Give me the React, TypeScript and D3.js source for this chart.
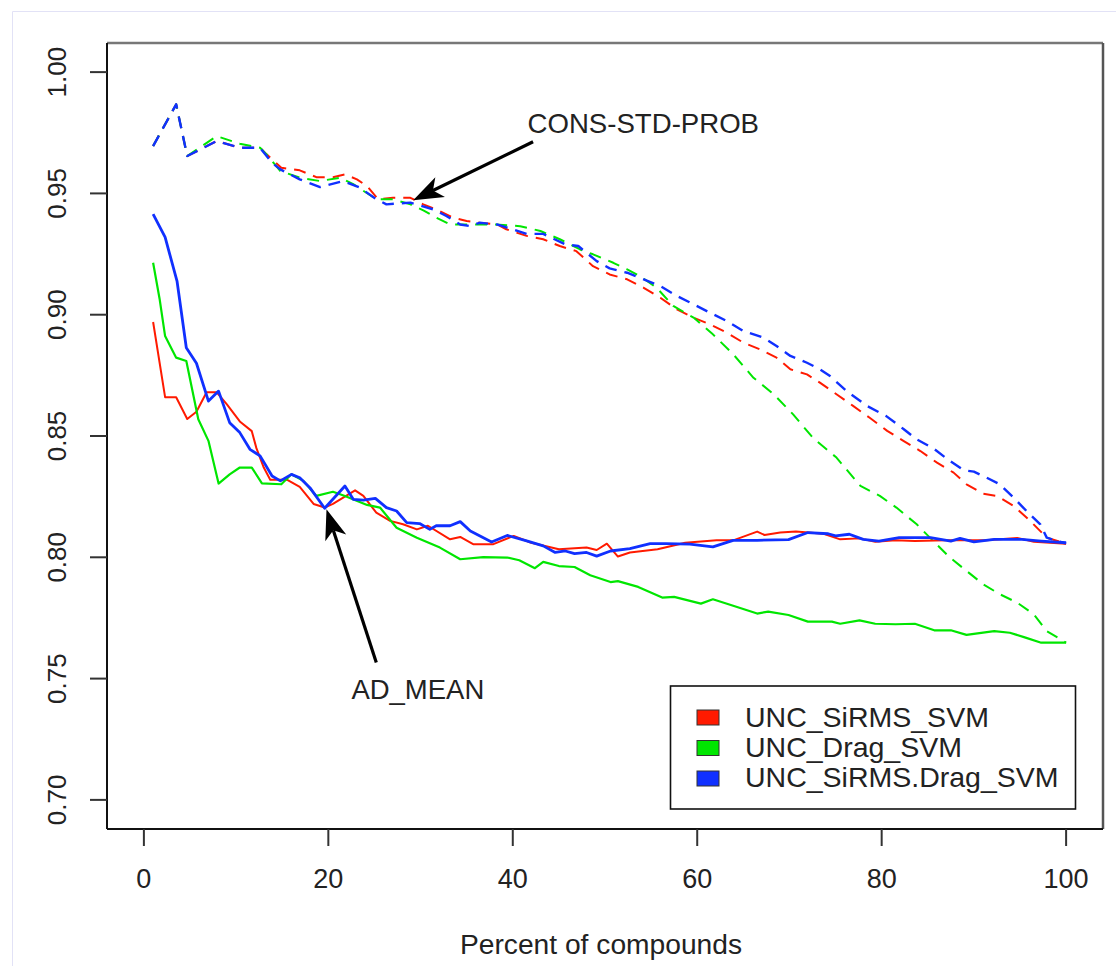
import React from "react";
import * as d3 from "d3";

// ---------- data ----------
const redSolidX = [1, 2.3, 3.5, 4.7, 5.7, 6.8, 7.9, 9, 10.4, 11.7, 12.2, 13, 13.7, 15.5, 16.9, 18.4, 19.6, 20.5, 22.9, 23.8, 25.2, 26.7, 28.1, 29.6, 30.8, 33.2, 34.3, 35.7, 37.9, 40.1, 42, 45, 48, 49.1, 50.2, 51.4, 52.7, 55.7, 58.7, 62.1, 63.9, 66.5, 67.3, 69, 70.7, 73.7, 75.5, 77.6, 79.3, 81.5, 83.6, 87, 91.3, 94.7, 96.5, 100];
const redSolidY = [0.897, 0.866, 0.866, 0.857, 0.86, 0.868, 0.868, 0.863, 0.856, 0.852, 0.845, 0.837, 0.832, 0.832, 0.829, 0.822, 0.8205, 0.822, 0.8276, 0.8253, 0.8184, 0.815, 0.8136, 0.8115, 0.813, 0.8074, 0.8084, 0.8054, 0.8054, 0.8088, 0.806, 0.8033, 0.804, 0.803, 0.8056, 0.8003, 0.802, 0.8033, 0.806, 0.807, 0.807, 0.8106, 0.8092, 0.8102, 0.8106, 0.8097, 0.8074, 0.8078, 0.8064, 0.807, 0.8067, 0.807, 0.807, 0.808, 0.8064, 0.8056];

const greenSolidX = [1, 1.7, 2.3, 3.5, 4.6, 5.9, 7, 8.1, 9.3, 10.4, 11.7, 12.8, 14.9, 16, 17.3, 18.7, 20.5, 21.8, 24.2, 25.6, 27.4, 29.6, 32.1, 34.3, 36.8, 39.4, 40.7, 42.4, 43.3, 45, 46.7, 48.4, 50.6, 51.4, 53.6, 56.2, 57.5, 60.4, 61.7, 63.9, 66.5, 67.7, 69.9, 72, 74.6, 75.5, 77.6, 79.3, 81.5, 83.6, 85.7, 87.5, 89.2, 92.2, 93.9, 95.6, 97.3, 100];
const greenSolidY = [0.9214, 0.9066, 0.8912, 0.8823, 0.8809, 0.8569, 0.848, 0.8304, 0.8342, 0.837, 0.837, 0.8305, 0.8301, 0.8342, 0.8315, 0.8253, 0.827, 0.8253, 0.8216, 0.8205, 0.8122, 0.8081, 0.804, 0.7992, 0.8001, 0.7999, 0.7988, 0.7955, 0.7981, 0.7964, 0.796, 0.7926, 0.7898, 0.7902, 0.7878, 0.7834, 0.7837, 0.7809, 0.7827, 0.78, 0.7768, 0.7776, 0.7762, 0.7735, 0.7735, 0.7726, 0.774, 0.7726, 0.7724, 0.7726, 0.7699, 0.7699, 0.768, 0.7696, 0.7689, 0.7669, 0.7648, 0.7648];

const blueSolidX = [1, 2.3, 3.6, 4.6, 5.7, 7, 8.1, 9.3, 10.4, 11.5, 12.6, 13.9, 14.8, 16, 16.9, 18, 19.6, 21.8, 22.7, 23.8, 25.1, 26.3, 27.4, 28.5, 29.9, 31, 31.7, 33.2, 34.3, 35.4, 37.7, 39.4, 41.6, 43.3, 44.6, 45.7, 46.7, 48, 49.1, 50.6, 52.7, 54.9, 56.6, 59.2, 61.7, 63.9, 66.5, 69.9, 72, 74.2, 75, 76.5, 78, 79.7, 81.9, 85.3, 87.5, 88.5, 90, 92.2, 95.2, 97.3, 100];
const blueSolidY = [0.9415, 0.932, 0.9137, 0.8864, 0.88, 0.8644, 0.8685, 0.8555, 0.8514, 0.8445, 0.8418, 0.8335, 0.8315, 0.8342, 0.8328, 0.8287, 0.8202, 0.8294, 0.8239, 0.8236, 0.8243, 0.8205, 0.8191, 0.8143, 0.8139, 0.8115, 0.813, 0.813, 0.8147, 0.8108, 0.8063, 0.809, 0.8067, 0.8047, 0.802, 0.8026, 0.8015, 0.802, 0.8005, 0.8026, 0.8036, 0.8056, 0.8056, 0.8054, 0.8043, 0.807, 0.807, 0.8073, 0.8102, 0.8097, 0.8088, 0.8095, 0.8074, 0.8067, 0.8081, 0.8081, 0.8067, 0.8078, 0.8064, 0.8074, 0.8074, 0.8067, 0.806];

const redDashX = [1, 3.5, 4.7, 7.9, 10.4, 12.6, 13.3, 14.9, 16.9, 18.7, 20.5, 21.8, 23.1, 24.2, 25.4, 27, 28.9, 30.3, 31.7, 33.5, 35, 36.4, 38.3, 39.3, 41.5, 43.3, 45.1, 46.9, 48.7, 50.5, 52.4, 54.2, 56, 57.8, 59.6, 61.4, 63.2, 65, 66.8, 68.6, 70.1, 71.9, 73.3, 75.1, 76.9, 78.7, 80.6, 82.4, 84.2, 86, 87.8, 89.2, 91, 92.5, 94.3, 96.1, 97.9, 100];
const redDashY = [0.9695, 0.9867, 0.9654, 0.9716, 0.9688, 0.9688, 0.9661, 0.9606, 0.9595, 0.9567, 0.9567, 0.9578, 0.9558, 0.953, 0.9476, 0.9482, 0.9482, 0.9455, 0.9434, 0.94, 0.9386, 0.9379, 0.9372, 0.9352, 0.9325, 0.9311, 0.9283, 0.9262, 0.92, 0.9166, 0.9146, 0.9111, 0.907, 0.9022, 0.8988, 0.896, 0.8926, 0.8885, 0.8857, 0.8823, 0.8775, 0.8754, 0.872, 0.8672, 0.8624, 0.8575, 0.8521, 0.8479, 0.8438, 0.839, 0.8349, 0.8301, 0.8262, 0.8253, 0.8212, 0.815, 0.8081, 0.8056];

const greenDashX = [1, 3.5, 4.7, 7.9, 10.4, 12.6, 13.3, 14.8, 16.9, 19.1, 21.3, 22.7, 25.2, 27, 28.9, 30.3, 31.7, 33.2, 35, 37.9, 40.8, 43, 45.1, 47.3, 48.7, 50.9, 52.4, 53.8, 55.6, 57.4, 59.6, 61.7, 63.9, 66.1, 68.3, 70.4, 72.6, 75.1, 77.7, 79.8, 81.6, 83.8, 85.6, 87.4, 89.2, 91, 92.8, 94.7, 96.5, 97.9, 100];
const greenDashY = [0.9695, 0.9867, 0.9654, 0.9736, 0.9705, 0.9688, 0.9661, 0.9592, 0.9565, 0.9551, 0.9565, 0.9538, 0.9476, 0.9476, 0.9455, 0.943, 0.94, 0.9372, 0.9372, 0.9372, 0.9365, 0.9345, 0.9311, 0.9269, 0.9249, 0.9214, 0.9187, 0.9159, 0.9111, 0.9036, 0.8988, 0.8919, 0.8837, 0.874, 0.8672, 0.8589, 0.849, 0.8411, 0.8294, 0.8253, 0.8205, 0.8136, 0.8067, 0.7999, 0.7944, 0.7889, 0.7848, 0.7813, 0.7765, 0.7696, 0.7648];

const blueDashX = [1, 3.5, 4.7, 7.9, 10.4, 12.6, 13.9, 14.8, 16.9, 19.1, 21.6, 23.4, 25.2, 26.3, 28.9, 31.4, 32.8, 34.3, 35.4, 36.4, 38.3, 39.3, 41.5, 43.3, 45.7, 47.1, 49.1, 50.5, 52.4, 54.2, 56, 57.8, 59.6, 61.4, 63.2, 65, 67.2, 68.6, 70.1, 71.9, 73.3, 74.4, 76.2, 78.4, 80.5, 82.4, 83.8, 85.6, 87.4, 88.9, 90, 91.4, 92.8, 94.3, 95.7, 97.2, 97.9, 100];
const blueDashY = [0.9695, 0.9867, 0.9654, 0.9716, 0.9688, 0.9688, 0.9626, 0.9599, 0.9558, 0.9526, 0.9551, 0.9524, 0.9476, 0.9455, 0.9462, 0.9434, 0.9407, 0.9372, 0.9365, 0.9379, 0.9372, 0.936, 0.9333, 0.9333, 0.929, 0.9283, 0.9221, 0.9191, 0.9173, 0.9146, 0.9118, 0.9077, 0.9043, 0.9008, 0.8974, 0.8933, 0.8905, 0.8871, 0.883, 0.8802, 0.8775, 0.8747, 0.8685, 0.8624, 0.8582, 0.8528, 0.8486, 0.8449, 0.8397, 0.8359, 0.8353, 0.8328, 0.8301, 0.8246, 0.8191, 0.8136, 0.8081, 0.8056];

const xTicks = [0, 20, 40, 60, 80, 100];
const yTicks = [0.7, 0.75, 0.8, 0.85, 0.9, 0.95, 1.0];
const legendLabels = ["UNC_SiRMS_SVM", "UNC_Drag_SVM", "UNC_SiRMS.Drag_SVM"];
const seriesColors = ["#ff1a00", "#00e600", "#1030ff"];
const xTitle = "Percent of compounds";

// annotations in data units: [tailX, tailY, tipX, tipY]
const consLabel = "CONS-STD-PROB";
const consArrow = [42.2, 0.9713, 29.2, 0.9472];
const consText = [41.6, 0.9749];
const adLabel = "AD_MEAN";
const adArrow = [25.2, 0.7566, 19.8, 0.8198];
const adText = [22.5, 0.7415];

const FONT = "'Liberation Sans', Arial, Helvetica, sans-serif";

export default function App() {
  const left = 107, right = 1103, top = 43, bottom = 829;
  const x = d3.scaleLinear().domain([-4, 104]).range([left, right]);
  const y = d3.scaleLinear().domain([0.688, 1.012]).range([bottom, top]);
  const line = d3.line<[number, number]>().x((d) => x(d[0])).y((d) => y(d[1]));
  const zip = (xs: number[], ys: number[]) => xs.map((v, i) => [v, ys[i]] as [number, number]);

  const dashed = [
    { pts: zip(redDashX, redDashY), c: seriesColors[0], w: 2 },
    { pts: zip(greenDashX, greenDashY), c: seriesColors[1], w: 2 },
    { pts: zip(blueDashX, blueDashY), c: seriesColors[2], w: 2.4 },
  ];
  const solid = [
    { pts: zip(redSolidX, redSolidY), c: seriesColors[0], w: 2 },
    { pts: zip(greenSolidX, greenSolidY), c: seriesColors[1], w: 2.2 },
    { pts: zip(blueSolidX, blueSolidY), c: seriesColors[2], w: 2.8 },
  ];

  const arrow = (a: number[], key: string) => {
    const x1 = x(a[0]), y1 = y(a[1]), x2 = x(a[2]), y2 = y(a[3]);
    const ang = Math.atan2(y2 - y1, x2 - x1);
    const L = 30, W = 11, N = 22;
    const ux = Math.cos(ang), uy = Math.sin(ang);
    const px = -uy, py = ux;
    const bx = x2 - ux * L, by = y2 - uy * L;
    const nx = x2 - ux * N, ny = y2 - uy * N;
    const head = `M${x2},${y2} L${bx + px * W},${by + py * W} L${nx},${ny} L${bx - px * W},${by - py * W} Z`;
    return (
      <g key={key}>
        <line x1={x1} y1={y1} x2={nx} y2={ny} stroke="#000" strokeWidth={3.2} />
        <path d={head} fill="#000" />
      </g>
    );
  };

  return (
    <div style={{ position: "absolute", left: 0, top: 0 }}>
      <svg width={1116} height={966} style={{ display: "block", background: "#fff" }}>
        <line x1={12.5} y1={11.5} x2={1116} y2={11.5} stroke="#e2e2f6" strokeWidth={1} />
        <line x1={12.5} y1={11.5} x2={12.5} y2={966} stroke="#e2e2f6" strokeWidth={1} />

        {dashed.map((s, i) => (
          <path key={"d" + i} d={line(s.pts) || ""} fill="none" stroke={s.c} strokeWidth={s.w} strokeDasharray="12 8" strokeLinejoin="round" />
        ))}
        {solid.map((s, i) => (
          <path key={"s" + i} d={line(s.pts) || ""} fill="none" stroke={s.c} strokeWidth={s.w} strokeLinejoin="round" />
        ))}

        <line x1={left} y1={top} x2={right} y2={top} stroke="#777" strokeWidth={2.5} />
        <line x1={right} y1={top} x2={right} y2={bottom} stroke="#555" strokeWidth={2.5} />
        <line x1={left} y1={top} x2={left} y2={bottom} stroke="#111" strokeWidth={2} />
        <line x1={left} y1={bottom} x2={right} y2={bottom} stroke="#111" strokeWidth={2} />

        {yTicks.map((t) => (
          <g key={"y" + t}>
            <line x1={90} x2={left} y1={y(t)} y2={y(t)} stroke="#333" strokeWidth={2} />
            <text transform={`translate(66,${y(t)}) rotate(-90)`} textAnchor="middle" fontFamily={FONT} fontSize={26} fill="#222">
              {d3.format(".2f")(t)}
            </text>
          </g>
        ))}

        {xTicks.map((t) => (
          <g key={"x" + t}>
            <line x1={x(t)} x2={x(t)} y1={bottom} y2={846} stroke="#333" strokeWidth={2} />
            <text x={x(t)} y={888} textAnchor="middle" fontFamily={FONT} fontSize={27} fill="#222">
              {t}
            </text>
          </g>
        ))}
        <text x={601} y={954} textAnchor="middle" fontFamily={FONT} fontSize={28.2} fill="#222">
          {xTitle}
        </text>

        {arrow(consArrow, "cons")}
        <text x={x(consText[0])} y={y(consText[1])} fontFamily={FONT} fontSize={27.6} fill="#222">
          {consLabel}
        </text>
        {arrow(adArrow, "ad")}
        <text x={x(adText[0])} y={y(adText[1])} fontFamily={FONT} fontSize={27.5} fill="#222">
          {adLabel}
        </text>

        <rect x={670.5} y={686} width={405} height={123} fill="#fff" stroke="#111" strokeWidth={1.6} />
        {legendLabels.map((lab, i) => (
          <g key={lab}>
            <rect x={697} y={710 + i * 30.5} width={22} height={15} fill={seriesColors[i]} stroke="#333" strokeWidth={1} />
            <text x={745} y={727 + i * 29.8} fontFamily={FONT} fontSize={28.5} fill="#222">
              {lab}
            </text>
          </g>
        ))}
      </svg>
    </div>
  );
}
